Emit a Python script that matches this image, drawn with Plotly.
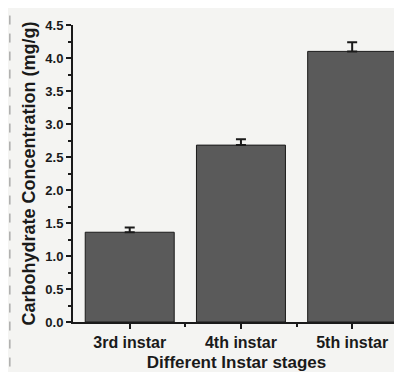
import plotly.graph_objects as go

stages = ["3rd instar", "4th instar", "5th instar"]
carb = [1.36, 2.68, 4.10]
carb_err = [0.07, 0.09, 0.14]
y_ticks = [0.0, 0.5, 1.0, 1.5, 2.0, 2.5, 3.0, 3.5, 4.0, 4.5]

FONT = "Liberation Sans, Arial, sans-serif"
INK = "#1a1a1a"
pos = list(range(len(stages)))

fig = go.Figure()
fig.add_trace(go.Bar(
    x=pos, y=carb, width=0.8,
    marker=dict(color="#5a5a5a", line=dict(color=INK, width=1)),
    error_y=dict(type="data", array=carb_err, arrayminus=[0] * len(carb_err),
                 symmetric=False, color=INK, thickness=2, width=5),
))

fig.update_xaxes(
    range=[-0.51, 2.43], tickvals=pos, ticktext=stages,
    showline=True, linecolor=INK, linewidth=2,
    ticks="outside", ticklen=5, tickwidth=2, tickcolor=INK,
    minor=dict(tickvals=[0.5, 1.5], ticks="outside", ticklen=3, tickwidth=1.5,
               tickcolor=INK),
    showgrid=False, zeroline=False,
    tickfont=dict(family=FONT, size=16, color=INK, weight="bold"),
    title=dict(text="Different Instar stages", standoff=6,
               font=dict(family=FONT, size=17, color=INK, weight="bold")),
)
fig.update_yaxes(
    range=[0, 4.5], tickvals=y_ticks, ticktext=[f"{v:.1f}" for v in y_ticks],
    showline=True, linecolor=INK, linewidth=2,
    ticks="outside", ticklen=5, tickwidth=2, tickcolor=INK,
    minor=dict(dtick=0.25, ticks="outside", ticklen=3, tickwidth=1.5,
               tickcolor=INK),
    showgrid=False, zeroline=False,
    tickfont=dict(family=FONT, size=13, color=INK, weight="bold"),
    title=dict(text="Carbohydrate Concentration (mg/g)", standoff=5,
               font=dict(family=FONT, size=18, color=INK, weight="bold")),
)

# scan edge on the left
fig.add_shape(type="line", xref="paper", yref="paper",
              x0=-0.193, x1=-0.193, y0=-0.15, y1=1.06,
              line=dict(color="#888888", width=1, dash="dash"))

# the page body adds ~8px offset, so margins are shifted to compensate
fig.update_layout(
    width=402, height=372,
    margin=dict(l=65, r=10, t=12, b=58),
    paper_bgcolor="#f4f4f2", plot_bgcolor="#f4f4f2",
    showlegend=False,
    font=dict(family=FONT, color=INK),
)
fig.write_html("out.html")
